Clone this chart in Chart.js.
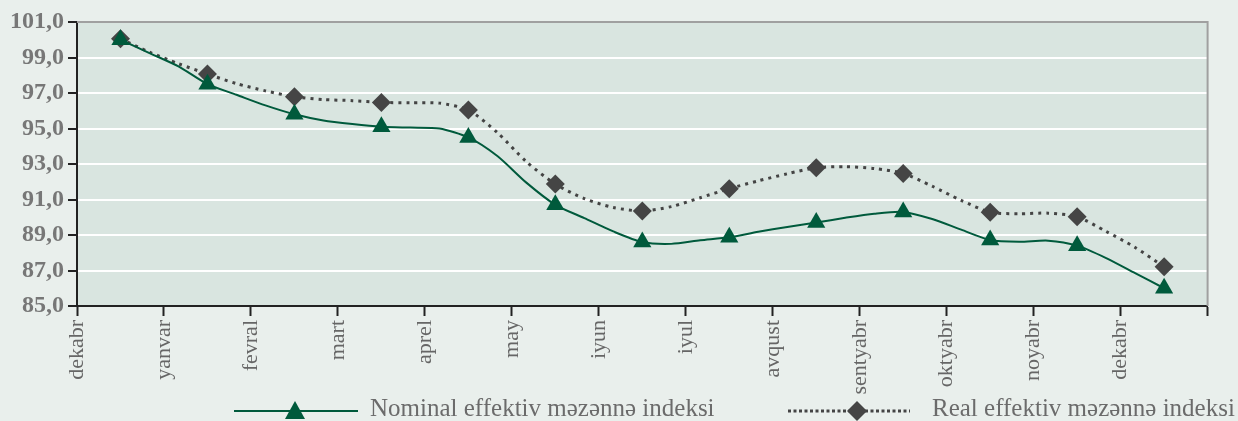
<!DOCTYPE html>
<html lang="az">
<head>
<meta charset="UTF-8">
<title>Effektiv məzənnə indeksləri</title>
<script src="https://cdn.jsdelivr.net/npm/chart.js"></script>
<style>
    html, body { margin: 0; padding: 0; background: #e9efec; }
    .wrap { position: relative; width: 1238px; height: 421px; overflow: hidden; }
    .legend-item { position: absolute; top: 395px; height: 26px; font-family: "Liberation Serif", "Times New Roman", serif; font-size: 25px; color: #6b6b6b; line-height: 26px; white-space: nowrap; }
    .legend-item svg { position: absolute; top: 4px; }
    .legend-item span { position: absolute; top: 0; }
</style>
</head>
<body>
<div class="wrap">
    <canvas id="chart" width="1238" height="421"></canvas>
    <div class="legend-item" style="left:234px">
        <svg width="126" height="22" style="left:0">
            <line x1="0" y1="12" x2="124" y2="12" stroke="#005a3c" stroke-width="2"/>
            <polygon points="61,2 51,20 71,20" fill="#005a3c"/>
        </svg>
        <span style="left:136px">Nominal effektiv məzənnə indeksi</span>
    </div>
    <div class="legend-item" style="left:788px">
        <svg width="126" height="22" style="left:0">
            <line x1="0" y1="12" x2="122" y2="12" stroke="#444" stroke-width="3" stroke-dasharray="3,2.5"/>
            <polygon points="69,2 79,12 69,22 59,12" fill="#454545"/>
        </svg>
        <span style="left:144px">Real effektiv məzənnə indeksi</span>
    </div>
</div>
<script>
    // month labels sit on the tick marks, values fall between them
    const months = ['dekabr', 'yanvar', 'fevral', 'mart', 'aprel', 'may', 'iyun',
        'iyul', 'avqust', 'sentyabr', 'oktyabr', 'noyabr', 'dekabr'];

    // three readings per month (decades), marker on every third one
    const nominal = [
        100.0, 99.25, 98.5,
        97.5, 96.9, 96.3,
        95.8, 95.45, 95.25,
        95.1, 95.05, 95.0,
        94.5, 93.45, 91.95,
        90.7, 89.95, 89.2,
        88.6, 88.5, 88.7,
        88.87, 89.18, 89.45,
        89.7, 89.97, 90.2,
        90.3, 89.9, 89.3,
        88.72, 88.62, 88.68,
        88.4, 87.7, 86.85,
        86.0
    ];
    const real = [
        100.05, 99.3, 98.65,
        98.07, 97.53, 97.12,
        96.79, 96.63, 96.57,
        96.47, 96.45, 96.43,
        96.04, 94.77, 93.13,
        91.87, 91.05, 90.55,
        90.35, 90.6, 91.1,
        91.61, 92.05, 92.45,
        92.79, 92.85, 92.75,
        92.47, 91.75, 90.95,
        90.28, 90.2, 90.23,
        90.03, 89.2, 88.3,
        87.21
    ];
    const yTicks = [85, 87, 89, 91, 93, 95, 97, 99, 101];

    const perMonth = 3;
    const toPoints = arr => arr.map((v, i) => ({ x: 0.5 + i / perMonth, y: v }));
    const markerSize = r => ctx => (ctx.dataIndex % perMonth === 0 ? r : 0);

    const plotBg = {
        id: 'plotBg',
        beforeDraw(chart) {
            const { ctx, chartArea: a } = chart;
            ctx.save();
            ctx.fillStyle = '#e9efec';
            ctx.fillRect(0, 0, chart.width, chart.height);
            ctx.fillStyle = '#d9e5e0';
            ctx.fillRect(a.left, a.top, a.right - a.left, a.bottom - a.top);
            ctx.restore();
        },
        beforeDatasetsDraw(chart) {
            const { ctx, chartArea: a } = chart;
            ctx.save();
            ctx.strokeStyle = '#a0a0a0';
            ctx.lineWidth = 2;
            ctx.beginPath();
            ctx.moveTo(a.left, a.top);
            ctx.lineTo(a.right, a.top);
            ctx.lineTo(a.right, a.bottom);
            ctx.stroke();
            ctx.restore();
        }
    };

    new Chart(document.getElementById('chart'), {
        type: 'line',
        data: {
            datasets: [{
                label: 'Nominal effektiv məzənnə indeksi',
                data: toPoints(nominal),
                borderColor: '#005a3c',
                borderWidth: 2,
                tension: 0.25,
                pointStyle: 'triangle',
                pointRadius: markerSize(10.5),
                pointBackgroundColor: '#005a3c',
                pointBorderColor: '#005a3c',
                pointBorderWidth: 0
            }, {
                label: 'Real effektiv məzənnə indeksi',
                data: toPoints(real),
                borderColor: '#444',
                borderWidth: 3,
                borderDash: [3, 5],
                tension: 0.25,
                pointStyle: 'rectRot',
                pointRadius: markerSize(9.5),
                pointBackgroundColor: '#454545',
                pointBorderColor: '#454545',
                pointBorderWidth: 0
            }]
        },
        options: {
            responsive: false,
            animation: false,
            events: [],
            layout: { padding: { top: 22, right: 30, bottom: 15, left: 0 } },
            plugins: { legend: { display: false }, tooltip: { enabled: false } },
            scales: {
                x: {
                    type: 'linear',
                    min: 0,
                    max: months.length,
                    afterFit: s => { s.height = 100; },
                    ticks: {
                        stepSize: 1,
                        autoSkip: false,
                        maxRotation: 90,
                        minRotation: 90,
                        padding: 4,
                        color: '#666',
                        font: { family: '"Liberation Serif", "Times New Roman", serif', size: 22 },
                        callback: v => months[v] ?? ''
                    },
                    grid: { drawOnChartArea: false, tickColor: '#222', tickLength: 10, tickWidth: 2 },
                    border: { color: '#222', width: 2 }
                },
                y: {
                    min: yTicks[0],
                    max: yTicks[yTicks.length - 1],
                    afterFit: s => { s.width = 77; },
                    afterBuildTicks: s => { s.ticks = yTicks.map(v => ({ value: v })); },
                    ticks: {
                        padding: 4,
                        color: '#777',
                        font: { family: '"Liberation Serif", "Times New Roman", serif', size: 24, weight: 'bold' },
                        callback: v => v.toFixed(1).replace('.', ',')
                    },
                    grid: {
                        color: c => (c.tick && c.tick.value === 101 ? 'rgba(0,0,0,0)' : '#ffffff'),
                        lineWidth: 2,
                        tickColor: '#222',
                        tickLength: 9,
                        tickWidth: 2
                    },
                    border: { color: '#222', width: 2 }
                }
            }
        },
        plugins: [plotBg]
    });
</script>
</body>
</html>
